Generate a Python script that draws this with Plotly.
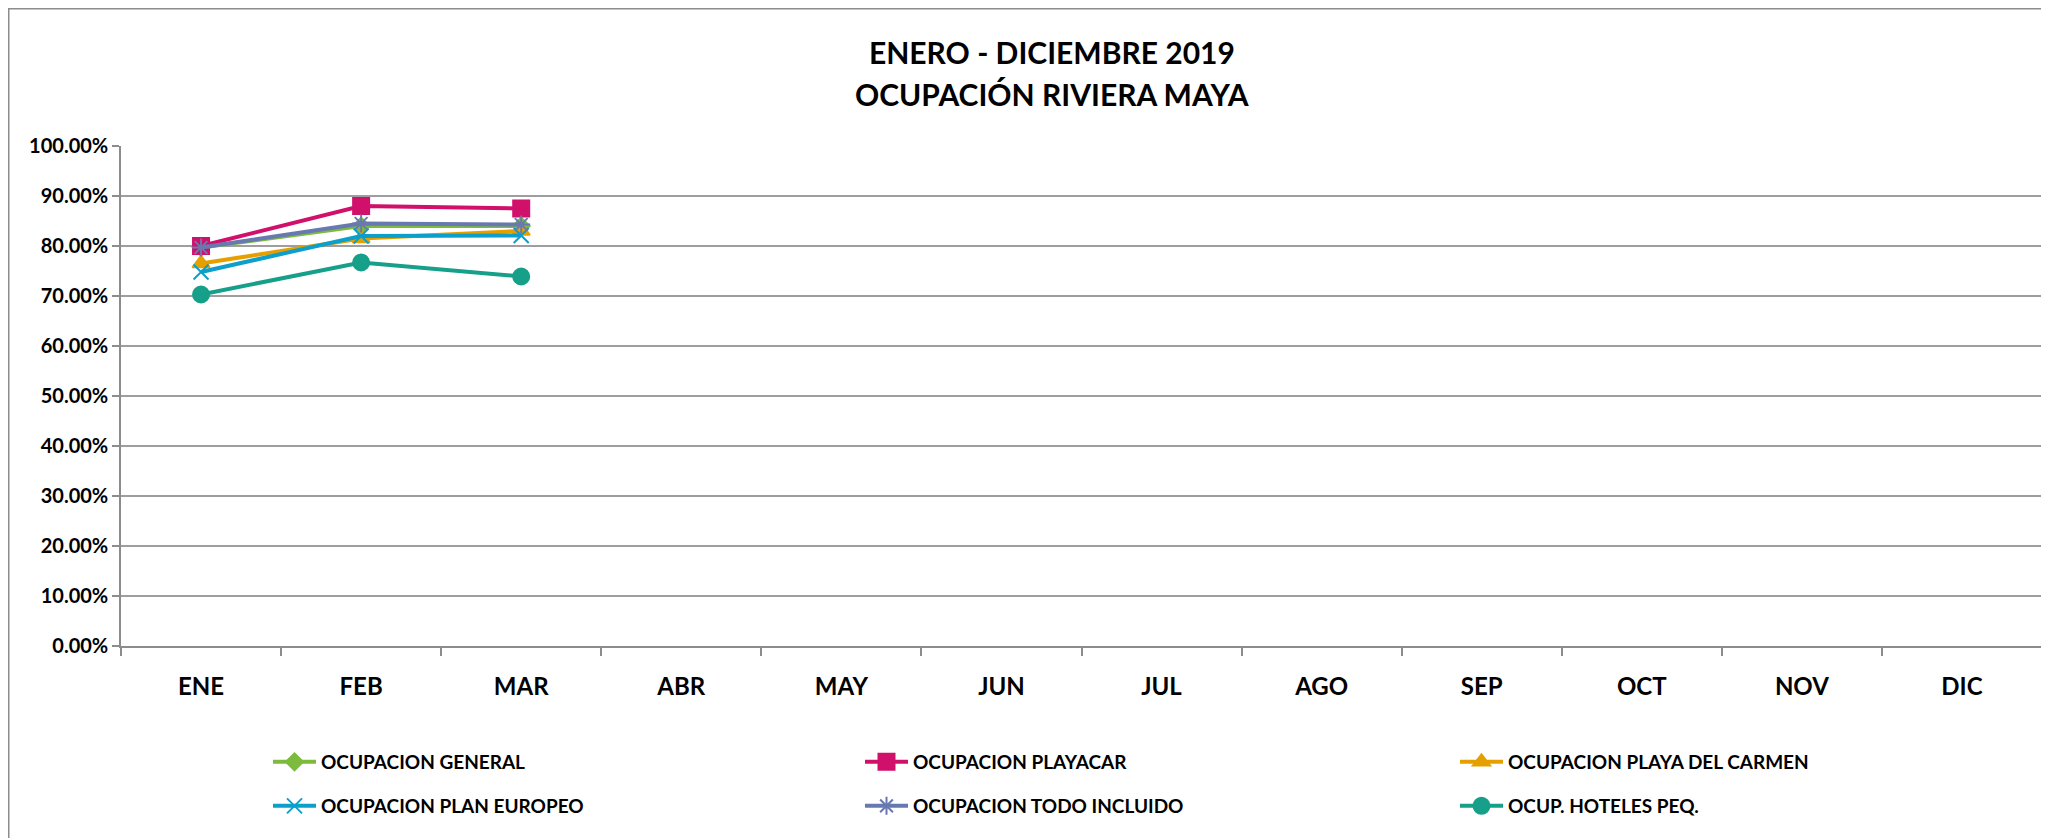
import plotly.graph_objects as go

months = ["ENE", "FEB", "MAR", "ABR", "MAY", "JUN", "JUL", "AGO", "SEP", "OCT", "NOV", "DIC"]
data_months = ["ENE", "FEB", "MAR"]

ocup_general = [0.797, 0.840, 0.840]
ocup_playacar = [0.800, 0.880, 0.875]
ocup_playa_carmen = [0.765, 0.815, 0.830]
ocup_plan_europeo = [0.748, 0.820, 0.821]
ocup_todo_incluido = [0.797, 0.845, 0.843]
ocup_hoteles_peq = [0.703, 0.767, 0.739]

series = [
    ("OCUPACION GENERAL", ocup_general, "#7DBB3C", "diamond", 13, "legend"),
    ("OCUPACION PLAYACAR", ocup_playacar, "#D1106C", "square", 16, "legend"),
    ("OCUPACION PLAYA DEL CARMEN", ocup_playa_carmen, "#E5A000", "triangle-up", 15, "legend2"),
    ("OCUPACION PLAN EUROPEO", ocup_plan_europeo, "#0C9FCB", "x-thin-open", 15, "legend3"),
    ("OCUPACION TODO INCLUIDO", ocup_todo_incluido, "#6878B0", "asterisk-open", 15, "legend3"),
    ("OCUP. HOTELES PEQ.", ocup_hoteles_peq, "#169F89", "circle", 16, "legend4"),
]

fig = go.Figure()
for name, vals, color, sym, size, leg in series:
    fig.add_trace(go.Scatter(
        x=data_months, y=vals, name=name, mode="lines+markers",
        line=dict(color=color, width=4),
        marker=dict(symbol=sym, size=size, color=color,
                    line=dict(color=color, width=2)),
        legend=leg,
    ))

# page has an 8px body margin; figure coordinates = page coordinates - 8
W, H = 2041, 830
L, R, T, B = 113, 7, 138, 192
pw = W - L - R
ph = H - T - B

def px(x):  # page x -> paper
    return (x - 8 - L) / pw

def py(y):  # page y -> paper
    return (H - B - (y - 8)) / ph

font_family = "Lato"
leg_font = dict(family=font_family, size=19, color="black", weight="bold")

def legend_at(x, y, entrywidth=None):
    d = dict(orientation="h", x=px(x), y=py(y), xanchor="left", yanchor="middle",
             font=leg_font, itemwidth=43, bgcolor="rgba(0,0,0,0)")
    if entrywidth:
        d.update(entrywidth=entrywidth, entrywidthmode="pixels")
    return d

fig.update_layout(
    width=W, height=H,
    margin=dict(l=L, r=R, t=T, b=B, autoexpand=False),
    paper_bgcolor="white", plot_bgcolor="white",
    font=dict(family=font_family, color="black"),
    showlegend=True,
    legend=legend_at(268, 762, 534),
    legend2=legend_at(1455, 762),
    legend3=legend_at(268, 806, 534),
    legend4=legend_at(1455, 806),
    xaxis=dict(
        type="category", categoryorder="array", categoryarray=months,
        range=[-0.5, 11.5], showgrid=False, automargin=False,
        showline=True, linecolor="#8C8C8C", linewidth=1.5,
        ticks="outside", tickson="boundaries", ticklen=8, tickcolor="#8C8C8C", tickwidth=1.5,
        tickfont=dict(family=font_family, size=24, color="black", weight="bold"),
        ticklabelstandoff=18,
        tickmode="array", tickvals=months, ticktext=months,
    ),
    yaxis=dict(
        range=[0, 1.0], dtick=0.1, tick0=0, tickformat=".2%", automargin=False,
        showgrid=True, gridcolor="#9E9E9E", gridwidth=1.5,
        showline=True, linecolor="#8C8C8C", linewidth=1.5,
        ticks="outside", ticklen=7, tickcolor="#8C8C8C", tickwidth=1.5,
        tickfont=dict(family=font_family, size=20, color="black", weight="bold"),
        zeroline=False,
    ),
    annotations=[
        dict(text="ENERO - DICIEMBRE 2019", x=px(1052), y=py(52), xref="paper", yref="paper",
             showarrow=False, xanchor="center", yanchor="middle",
             font=dict(family=font_family, size=30, color="black", weight="bold")),
        dict(text="OCUPACIÓN RIVIERA MAYA", x=px(1052), y=py(94), xref="paper", yref="paper",
             showarrow=False, xanchor="center", yanchor="middle",
             font=dict(family=font_family, size=30, color="black", weight="bold")),
    ],
    shapes=[
        dict(type="rect", xref="paper", yref="paper",
             x0=px(8.75), x1=px(2200), y0=py(1000), y1=py(8.75),
             line=dict(color="#8C8C8C", width=1.5), fillcolor="rgba(0,0,0,0)", layer="below"),
    ],
)

fig.write_html("out.html")
